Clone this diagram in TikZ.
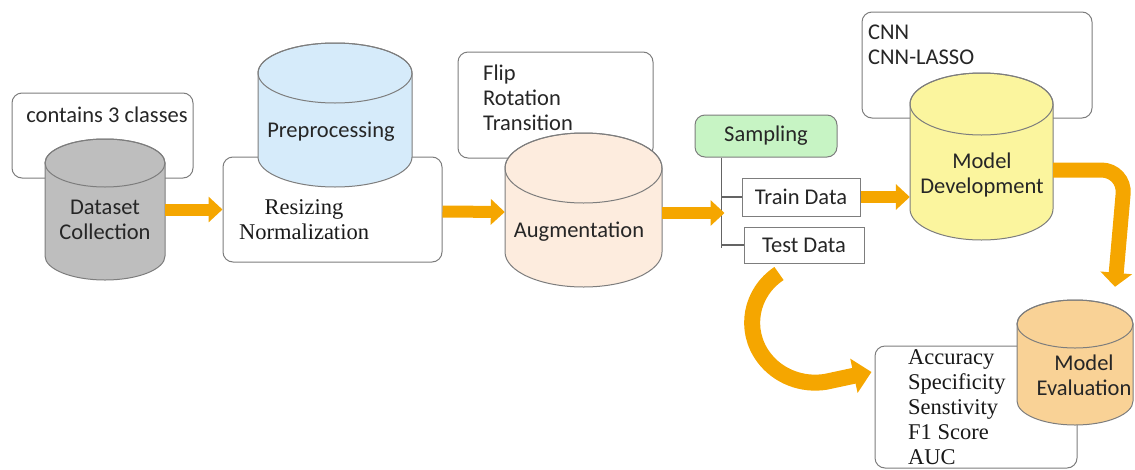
\documentclass[tikz,border=0pt]{standalone}
\usepackage{fontspec}
\setmainfont{Liberation Serif}
\newfontfamily\calfont{Carlito}
\usetikzlibrary{arrows.meta,calc}
\definecolor{edge}{RGB}{125,125,125}
\definecolor{arrorange}{RGB}{245,166,0}
\definecolor{dsgray}{RGB}{190,190,190}
\definecolor{ppblue}{RGB}{214,235,250}
\definecolor{augpeach}{RGB}{253,236,222}
\definecolor{mdyellow}{RGB}{251,245,158}
\definecolor{meorange}{RGB}{249,210,150}
\definecolor{sampgreen}{RGB}{199,244,196}
\newcommand{\drawcyl}[7]{% name, x1, x2, ytop, ry, ybot, fill
  \pgfmathsetmacro\cylcx{(#2+#3)/2}%
  \pgfmathsetmacro\cylrx{(#3-#2)/2}%
  \filldraw[cylline, fill=#7] (#2,#4+#5) -- (#2,#6-#5)
     arc[start angle=180, end angle=0, x radius=\cylrx, y radius=#5]
     -- (#3,#4+#5)
     arc[start angle=0, end angle=-180, x radius=\cylrx, y radius=#5] -- cycle;
  \draw[cylline] (\cylcx,#4+#5) ellipse[x radius=\cylrx, y radius=#5];
  \node[inner sep=0, minimum width={(#3-#2)*1pt}, minimum height={(#6-#4)*1pt}] (#1) at (\cylcx,{(#4+#6)/2}) {};
}
\begin{document}
\begin{tikzpicture}[x=1pt,y=-1pt,
  cylline/.style={draw=edge, line width=1pt},
  notebox/.style={draw=edge, fill=white, rounded corners=10pt, line width=1pt, inner sep=0},
  sqbox/.style={draw=edge, fill=white, line width=1pt, inner sep=0},
  sans/.style={font=\calfont\fontsize{22.5}{25}\selectfont, text=black!85, inner sep=0},
  serif/.style={font=\fontsize{22.5}{25}\selectfont, text=black!90, inner sep=0},
  blk/.style={draw=arrorange, line width=12pt, -{Triangle[width=25pt,length=14pt]}},
  bigarr/.style={draw=arrorange, line width=15pt, -{Triangle[width=31pt,length=14pt]}}]
\useasboundingbox (0,0) rectangle (1135,469);

% note boxes (behind cylinders)
\node[notebox, minimum width=181pt, minimum height=85pt] (notedata) at (102.5,135.5) {};
\node[notebox, minimum width=219pt, minimum height=105pt] (resize) at (332.5,209.5) {};
\node[notebox, minimum width=195pt, minimum height=106pt] (noteaug) at (555.5,105) {};
\node[notebox, minimum width=230pt, minimum height=106pt] (notemodel) at (977,65) {};
\node[notebox, minimum width=202pt, minimum height=122pt] (metrics) at (976,407) {};

% cylinders
\drawcyl{dscyl}{45}{165}{139}{24}{280}{dsgray}
\drawcyl{ppcyl}{258}{412}{43}{30}{187}{ppblue}
\drawcyl{augcyl}{505}{662}{133}{35}{287}{augpeach}
\drawcyl{mdcyl}{910}{1053}{73}{31}{240}{mdyellow}
\drawcyl{mecyl}{1017}{1133}{300}{24}{425}{meorange}

% sampling part
\node[notebox, fill=sampgreen, minimum width=142pt, minimum height=42pt, sans] (sampling) at (766,136) {Sampling};
\node[sqbox, minimum width=118pt, minimum height=38pt, sans] (train) at (801,197) {Train Data};
\node[sqbox, minimum width=120pt, minimum height=36pt, sans] (test) at (804,245) {Test Data};
\coordinate (trunk) at ($(sampling.south west)+(27,0)$);
\coordinate (trunkend) at (trunk |- 0,248);
\draw[edge!80!black, line width=1.5pt] (trunk) -- (trunkend);
\draw[edge!80!black, line width=1.5pt] (trunk |- train.west) -- (train.west);
\draw[edge!80!black, line width=1.5pt] (trunk |- test.west) -- (test.west);

% texts
\node[sans] (tcontains) at (107,115) {contains 3 classes};
\node[sans, align=center] (tdataset) at (105,220) {Dataset\\Collection};
\node[sans] (tprep) at (331,132) {Preprocessing};
\node[serif, align=center] (tresize) at (304,220) {Resizing\\Normalization};
\node[sans, align=left, anchor=west] (taug) at (483,98) {Flip\\Rotation\\Transition};
\node[sans] (taugl) at (579,232) {Augmentation};
\node[sans, align=left, anchor=west] (tmodel) at (868,44.5) {CNN\\CNN-LASSO};
\node[sans, align=center] (tmd) at (982,174.5) {Model\\Development};
\node[sans, align=center] (tme) at (1084,375.5) {Model\\Evaluation};
\node[serif, align=left, anchor=west] (tmetrics) at (908,407) {Accuracy\\Specificity\\Senstivity\\F1 Score\\AUC};

% arrows
\draw[blk] (dscyl.east) -- (resize.west);
\draw[blk] ($(resize.east)+(0,2)$) -- ($(augcyl.west)+(0,2)$);
\draw[blk] ($(augcyl.east)+(0,3)$) -- ($(augcyl.east -| trunk)+(3,3)$);
\draw[blk] (train.east) -- (train.east -| mdcyl.west);
\draw[bigarr, rounded corners=24pt] ($(mdcyl.east)+(0,13.5)$) -- ($(mdcyl.east)+(72,13.5)$) -- ($(mecyl.north)+(40,-13)$);
\draw[draw=arrorange, line width=16pt, -{Triangle[width=34pt,length=18pt]}]
  ($(test.south)+(-25,10)$) arc[start angle=235, end angle=80, x radius=63, y radius=60]
  -- ($(metrics.west)+(-3,-35)$);
\end{tikzpicture}
\end{document}
